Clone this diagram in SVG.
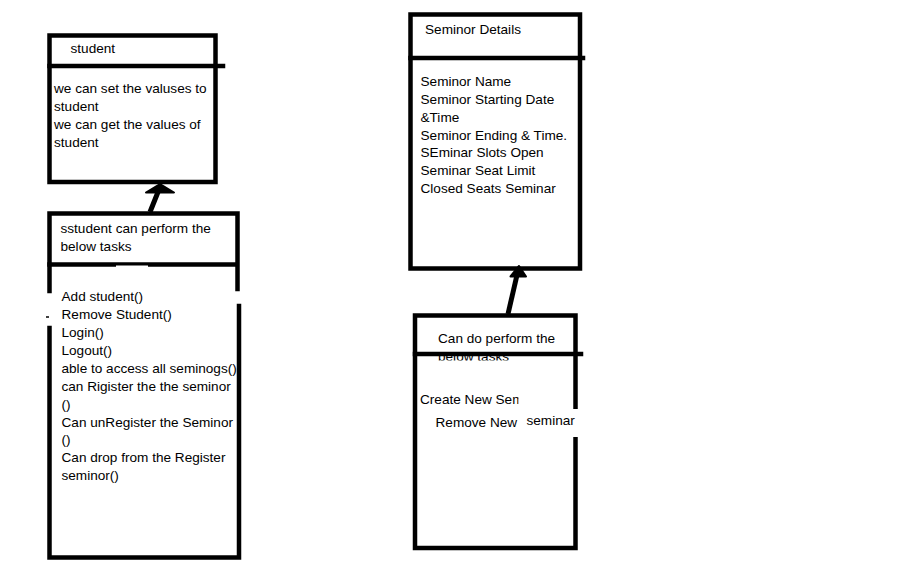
<svg xmlns="http://www.w3.org/2000/svg" width="919" height="561" viewBox="0 0 919 561">
<style>
.b{fill:none;stroke:#000;stroke-width:4.5;stroke-linecap:square}
.t{font-family:"Liberation Sans",Arial,sans-serif;font-size:13.6px;fill:#000}
.h{fill:#000;stroke:#000;stroke-width:2;stroke-linejoin:round}
</style>
<defs>
<clipPath id="c4h"><rect x="415" y="318" width="160" height="42.5"/></clipPath>
<clipPath id="c4s"><rect x="415" y="380" width="103.5" height="40"/></clipPath>
</defs>
<rect width="919" height="561" fill="#fff"/>

<g id="student">
<rect class="b" x="49.5" y="35.5" width="166" height="146.5"/>
<line class="b" x1="49.5" y1="66" x2="223" y2="66"/>
<text class="t" x="70.5" y="53">student</text>
<text class="t" x="54" y="93">we can set the valuses to</text>
<text class="t" x="54" y="111">student</text>
<text class="t" x="54" y="129">we can get the values of</text>
<text class="t" x="54" y="147">student</text>
</g>

<g id="student-tasks">
<path class="b" d="M49.5 213.5H237.5V289M239 306V557.5H49.5V328M49.5 291V213.5"/>
<line class="b" x1="49.5" y1="264.5" x2="236" y2="264.5"/>
<rect x="116" y="265.5" width="32" height="2.5" fill="#fff"/>
<line x1="46" y1="317" x2="49" y2="317" stroke="#000" stroke-width="1.5"/>
<text class="t" x="60.5" y="233">sstudent can perform the</text>
<text class="t" x="60.5" y="251">below tasks</text>
<text class="t" x="61.5" y="301">Add student()</text>
<text class="t" x="61.5" y="319">Remove Student()</text>
<text class="t" x="61.5" y="337">Login()</text>
<text class="t" x="61.5" y="354.5">Logout()</text>
<text class="t" x="61.5" y="372.5">able to access all seminogs()</text>
<text class="t" x="61.5" y="390.5">can Rigister the the seminor</text>
<text class="t" x="61.5" y="408.5">()</text>
<text class="t" x="61.5" y="426.5">Can unRegister the Seminor</text>
<text class="t" x="61.5" y="444">()</text>
<text class="t" x="61.5" y="462">Can drop from the Register</text>
<text class="t" x="61.5" y="480">seminor()</text>
</g>

<g id="seminor-details">
<rect class="b" x="410.5" y="14.5" width="169.5" height="254"/>
<line class="b" x1="410.5" y1="58" x2="583" y2="58"/>
<text class="t" x="425" y="33.5">Seminor Details</text>
<text class="t" x="420.5" y="86">Seminor Name</text>
<text class="t" x="420.5" y="104">Seminor Starting Date</text>
<text class="t" x="420.5" y="121.5">&amp;Time</text>
<text class="t" x="420.5" y="139.5">Seminor Ending &amp; Time.</text>
<text class="t" x="420.5" y="157">SEminar Slots Open</text>
<text class="t" x="420.5" y="175">Seminar Seat Limit</text>
<text class="t" x="420.5" y="192.5">Closed Seats Seminar</text>
</g>

<g id="admin-tasks">
<rect class="b" x="415" y="315.5" width="160.5" height="232.5"/>
<text class="t" x="438" y="342.5">Can do perform the</text>
<text class="t" x="438" y="360.5" clip-path="url(#c4h)">below tasks</text>
<line class="b" x1="415" y1="354" x2="581" y2="354"/>
<text class="t" x="420" y="403.5" clip-path="url(#c4s)">Create New Seminar</text>
<text class="t" x="435.5" y="427">Remove New</text>
<rect x="524" y="409" width="54" height="28" fill="#fff"/>
<text class="t" x="526.5" y="424.5">seminar</text>
</g>

<g id="connectors">
<line x1="150" y1="212" x2="158" y2="192" stroke="#000" stroke-width="5"/>
<polygon class="h" points="146,192.5 160,184 174,192.5"/>
<line x1="508" y1="314" x2="517" y2="275" stroke="#000" stroke-width="5"/>
<polygon class="h" points="510.5,276.5 519,266 526,276.5"/>
</g>
</svg>
